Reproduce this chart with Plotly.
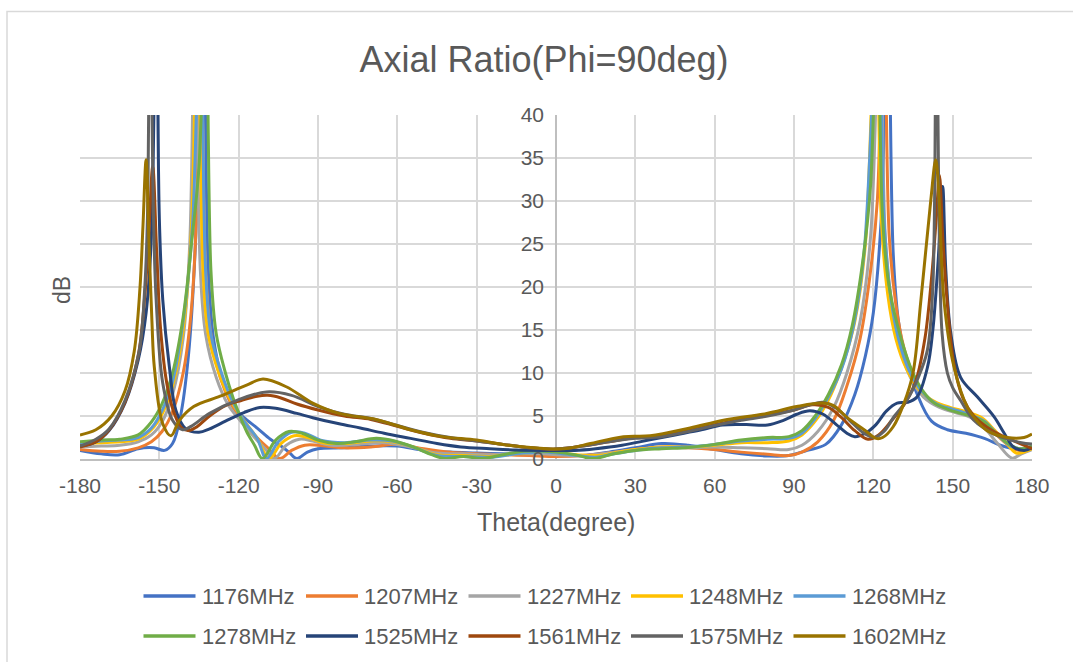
import plotly.graph_objects as go

# ---------------- data ----------------
title_text = "Axial Ratio(Phi=90deg)"
x_title = "Theta(degree)"
y_title = "dB"
x_tick_vals = [-180, -150, -120, -90, -60, -30, 0, 30, 60, 90, 120, 150, 180]
x_tick_text = ["-180", "-150", "-120", "-90", "-60", "-30", "0", "30", "60", "90", "120", "150", "180"]
y_tick_vals = [0, 5, 10, 15, 20, 25, 30, 35, 40]

series_names = ["1176MHz", "1207MHz", "1227MHz", "1248MHz", "1268MHz",
                "1278MHz", "1525MHz", "1561MHz", "1575MHz", "1602MHz"]
series_colors = ["#4472C4", "#ED7D31", "#A5A5A5", "#FFC000", "#5B9BD5",
                 "#70AD47", "#264478", "#9E480E", "#636363", "#997300"]

# (theta, axial ratio dB); peaks beyond 40 dB are clipped by the axis
s1176 = [(-180, 1.0), (-172, 0.6), (-165, 0.5), (-158, 1.2), (-152, 1.3), (-148, 1.0), (-145, 1.8),
         (-142, 5), (-139, 12), (-136.5, 24), (-133.5, 55), (-131.5, 22), (-129.5, 14), (-126, 9),
         (-122, 6), (-118, 4.8), (-113, 3.6), (-108, 2.3), (-104, 1.5), (-101, 0.8), (-98, 0.05),
         (-94, 0.8), (-90, 1.2), (-80, 1.3), (-70, 1.5), (-60, 1.5), (-50, 1.0), (-40, 0.8),
         (-30, 0.7), (-20, 0.6), (-10, 0.5), (0, 0.4), (10, 0.4), (20, 0.8), (30, 1.3), (40, 1.8),
         (50, 1.6), (60, 1.1), (70, 0.6), (80, 0.35), (88, 0.4), (95, 1.0), (102, 1.7), (108, 4),
         (113, 7.5), (117, 12), (120, 17), (123, 28), (125.5, 55), (127.5, 24), (129.5, 16),
         (132, 12), (136.5, 7.6), (142, 4.4), (148, 3.4), (155, 3.0), (162, 2.4), (168, 1.6),
         (173, 1.2), (177, 1.0), (180, 1.3)]
s1207 = [(-180, 1.1), (-172, 0.9), (-165, 0.9), (-158, 1.3), (-153, 2.0), (-149, 3.2), (-145, 5.5),
         (-141, 10), (-138, 17), (-136, 28), (-134.5, 55), (-132.5, 22), (-130.5, 14.5), (-127, 9.5),
         (-123, 6.5), (-119, 4.6), (-114, 2.8), (-109, 1.3), (-104.5, 0.05), (-100, 1.0), (-95, 1.6),
         (-90, 1.6), (-80, 1.3), (-70, 1.4), (-60, 1.7), (-50, 1.2), (-40, 0.8), (-30, 0.6),
         (-20, 0.5), (-10, 0.4), (0, 0.3), (10, 0.4), (20, 0.7), (30, 1.1), (40, 1.4), (50, 1.3),
         (60, 1.1), (70, 0.8), (80, 0.55), (88, 0.4), (93, 0.8), (99, 2.0), (105, 4.5), (110, 8.5),
         (115, 14), (119, 22), (121.5, 30), (124, 55), (126, 26), (128.5, 18), (131.5, 13),
         (135.5, 9.5), (140, 7.2), (146, 6.0), (152, 5.4), (158, 4.8), (163, 3.8), (168, 2.4),
         (173, 1.2), (177, 1.0), (180, 1.4)]
s1227 = [(-180, 1.4), (-172, 1.5), (-165, 1.6), (-158, 2.0), (-153, 2.8), (-149, 4.3), (-145, 7.5),
         (-141, 14), (-138.5, 25), (-136.5, 55), (-134.5, 22), (-132.5, 14.5), (-128.5, 9.5),
         (-124, 6.3), (-119, 4.3), (-114, 2.5), (-110, 1.2), (-106.5, 0.05), (-102, 1.6), (-97, 2.3),
         (-92, 2.1), (-85, 1.6), (-75, 1.7), (-65, 1.9), (-55, 1.4), (-45, 0.7), (-35, 0.6),
         (-25, 0.5), (-15, 0.6), (-5, 0.6), (0, 0.5), (10, 0.4), (20, 0.7), (30, 1.1), (40, 1.3),
         (50, 1.3), (60, 1.4), (70, 1.3), (80, 1.2), (88, 1.1), (93, 1.6), (99, 3.2), (105, 6),
         (110, 10), (115, 16), (119, 26), (122.5, 55), (124.5, 26), (127, 18), (130, 13), (134, 9.5),
         (139, 7.2), (145, 6.0), (151, 5.4), (157, 4.8), (162, 3.6), (167, 1.8), (172.5, 0.1),
         (176, 0.6), (180, 1.1)]
s1248 = [(-180, 1.8), (-172, 1.9), (-165, 2.0), (-158, 2.3), (-153, 3.4), (-149, 5.2), (-145, 8.5),
         (-141, 15), (-138, 26), (-135.5, 55), (-133.5, 22), (-131.5, 14.5), (-127.5, 10), (-123, 6.8),
         (-118, 4.5), (-113, 2.4), (-108.5, 0.05), (-104, 1.8), (-99, 2.7), (-94, 2.5), (-88, 1.9),
         (-80, 1.8), (-70, 2.1), (-62, 2.0), (-55, 1.5), (-45, 0.5), (-35, 0.4), (-25, 0.3),
         (-15, 0.6), (-5, 0.8), (0, 0.7), (8, 0.5), (15, 0.4), (22, 0.7), (30, 1.1), (40, 1.4),
         (50, 1.4), (60, 1.6), (70, 1.9), (80, 1.9), (88, 2.1), (93, 2.8), (99, 4.8), (104, 7.5),
         (109, 11.5), (113, 16), (117, 25), (121, 55), (123, 28), (125.5, 19), (128.5, 14),
         (132.5, 10.5), (137.5, 8), (143, 6.7), (149, 6.0), (155, 5.5), (161, 4.8), (166, 3.3),
         (171, 1.6), (174, 0.7), (177, 0.8), (180, 1.2)]
s1268 = [(-180, 1.9), (-172, 2.1), (-165, 2.2), (-158, 2.5), (-153, 3.6), (-149, 5.6), (-145, 9),
         (-141, 16), (-137.5, 27), (-134.5, 55), (-132.5, 22), (-130.5, 14.5), (-126.5, 10),
         (-122, 6.5), (-117.5, 4.2), (-113, 2.4), (-109.5, 0.05), (-105, 2.0), (-100, 3.1), (-95, 3.0),
         (-89, 2.2), (-80, 1.9), (-70, 2.2), (-62, 2.1), (-55, 1.5), (-45, 0.4), (-35, 0.3),
         (-25, 0.2), (-15, 0.6), (-5, 0.8), (0, 0.7), (8, 0.4), (15, 0.2), (22, 0.6), (30, 1.0),
         (40, 1.3), (50, 1.4), (60, 1.7), (70, 2.1), (80, 2.3), (88, 2.4), (93, 3.0), (98, 4.7),
         (103, 7.2), (108, 10.5), (112.5, 15.5), (116.5, 24), (122, 55), (124, 28), (126.5, 19),
         (129.5, 14), (133.5, 10.3), (138.5, 7.8), (144, 6.4), (150, 5.8), (156, 5.2), (162, 4.4),
         (167, 2.8), (172, 1.5), (176, 1.2), (180, 1.5)]
s1278 = [(-180, 2.0), (-172, 2.2), (-165, 2.3), (-158, 2.8), (-153, 4.3), (-149, 6.4), (-145, 10),
         (-141, 16.5), (-137.5, 26), (-135, 34), (-132.5, 55), (-130.5, 22), (-128.5, 14.6),
         (-125, 10), (-122, 7), (-119.5, 5), (-117, 3.2), (-114, 1.6), (-111, 0.05), (-106, 2.2),
         (-101, 3.2), (-96, 3.0), (-90, 2.2), (-83, 1.8), (-76, 2.0), (-68, 2.4), (-61, 2.1),
         (-54, 1.4), (-47, 0.5), (-42, 0.05), (-35, 0.3), (-28, 0.05), (-20, 0.5), (-12, 0.9),
         (-5, 0.9), (0, 0.8), (7, 0.5), (14, 0.05), (22, 0.6), (30, 1.0), (40, 1.2), (50, 1.35),
         (60, 1.7), (70, 2.2), (80, 2.5), (88, 2.6), (93, 3.3), (98, 5), (103, 7.5), (108, 11),
         (112, 15.5), (116, 23), (119, 32), (121.5, 55), (123.5, 28), (126, 20), (130.5, 14),
         (135, 10), (139, 7.8), (143, 6.5), (148, 5.8), (153, 5.3), (158, 4.9), (162, 4.3),
         (166, 3.1), (170, 2.0), (174, 1.3), (177, 1.2), (180, 1.5)]
s1525 = [(-180, 1.5), (-174, 2.0), (-169, 3.3), (-163, 6.5), (-158, 11.5), (-155, 17), (-153, 26),
         (-151.2, 55), (-150, 28), (-148.7, 18.5), (-146.2, 10.7), (-143.7, 5.6), (-140, 3.5),
         (-135, 3.1), (-131, 3.5), (-125, 4.4), (-118, 5.4), (-112, 6.0), (-106, 5.9), (-98, 5.3),
         (-92, 4.8), (-82, 4.1), (-74, 3.6), (-65, 3.0), (-55, 2.4), (-45, 1.8), (-36, 1.4),
         (-25, 1.2), (-15, 1.05), (-5, 1.0), (0, 1.0), (7, 1.0), (15, 1.2), (25, 1.6), (35, 2.2),
         (45, 2.8), (55, 3.4), (63, 3.95), (72, 4.0), (80, 3.95), (86, 4.5), (91, 5.2), (96, 5.6),
         (101, 5.2), (106, 4.0), (110, 3.0), (113, 2.6), (117, 3.0), (121, 4.0), (125, 5.6),
         (129, 6.5), (133, 6.6), (136.5, 7.2), (140.5, 10.7), (142.5, 15), (144.5, 23),
         (146.2, 31.7), (147.4, 22), (149.3, 14.6), (153, 9.5), (159.4, 7.2), (165.7, 4.9),
         (169.5, 3.0), (173, 1.4), (177, 1.0), (180, 1.3)]
s1561 = [(-180, 1.4), (-174, 2.0), (-169, 3.4), (-163, 6.6), (-158, 12), (-155.5, 19), (-154, 26),
         (-152.5, 34), (-151, 24), (-149.5, 15), (-147, 8.5), (-144, 5), (-141.5, 3.6), (-139, 3.3),
         (-136, 3.7), (-131, 5.0), (-125, 6.2), (-119, 6.8), (-113, 7.3), (-109, 7.4), (-104, 7.1),
         (-98, 6.4), (-90, 5.7), (-80, 5.0), (-70, 4.6), (-60, 3.8), (-50, 3.0), (-40, 2.4),
         (-30, 2.1), (-20, 1.7), (-10, 1.3), (0, 1.15), (10, 1.5), (20, 2.0), (30, 2.5), (40, 2.7),
         (50, 3.3), (60, 4.0), (70, 4.6), (80, 5.1), (90, 5.7), (97, 6.3), (103, 6.0), (108, 4.8),
         (113, 3.3), (118, 2.3), (122, 2.8), (127, 4.5), (132, 6.5), (136, 9), (139.5, 14),
         (142, 21), (143.8, 28), (145, 33), (146.2, 26), (148, 18), (150.5, 11), (154, 7),
         (158, 5), (163, 3.7), (168, 2.8), (174, 2.0), (180, 1.2)]
s1575 = [(-180, 1.5), (-174, 2.3), (-169, 3.5), (-163, 6.8), (-157.6, 12.6), (-155.5, 20),
         (-154.5, 28), (-153.5, 55), (-152.2, 28), (-151.2, 18.5), (-148.7, 8.8), (-145, 4.5),
         (-141.2, 3.4), (-138, 3.8), (-131, 5.3), (-120, 6.9), (-109.5, 7.8), (-100, 7.4),
         (-90, 6.1), (-80, 5.2), (-70, 4.7), (-60, 3.9), (-50, 3.1), (-40, 2.5), (-30, 2.1),
         (-20, 1.7), (-10, 1.3), (0, 1.15), (10, 1.5), (20, 2.0), (30, 2.4), (40, 2.6), (50, 3.2),
         (60, 3.9), (70, 4.5), (80, 5.0), (90, 5.7), (96, 6.3), (101, 6.6), (106, 5.9), (111, 4.5),
         (116, 3.1), (120.3, 2.5), (124, 3.2), (128, 5), (132.6, 6.8), (137, 9.5), (140.4, 12.6),
         (142.5, 20), (143.8, 55), (145, 25), (146, 14.6), (148, 10), (150, 8.3), (153, 6.8),
         (158, 4.5), (165.7, 2.9), (172, 2.2), (176, 1.9), (180, 1.75)]
s1602 = [(-180, 2.8), (-174, 3.4), (-168, 5.0), (-163, 7.9), (-159.5, 12.5), (-157.3, 20),
         (-156.2, 27), (-155, 34.8), (-154, 26), (-152.8, 16), (-151.9, 10.7),
         (-148.7, 4.1), (-145.6, 2.7), (-142.4, 4.5), (-137, 6.1), (-127, 7.3), (-117, 8.6),
         (-110.8, 9.3), (-102, 8.4), (-92, 6.5), (-82, 5.3), (-68, 4.6), (-55, 3.4), (-43, 2.6),
         (-30, 2.2), (-18, 1.6), (-6, 1.25), (0, 1.15), (6, 1.3), (13, 1.8), (25.5, 2.6),
         (35.6, 2.7), (50.7, 3.6), (63.3, 4.5), (79.7, 5.3), (91, 6.1), (101, 6.5), (105, 6.2),
         (109.8, 4.9), (117.4, 3.2), (121, 2.4), (123.5, 2.5), (127.5, 3.75), (131.6, 6.5),
         (135, 10), (138, 18.5), (141.7, 30), (143.6, 34.8), (144.9, 30), (146.7, 18.5),
         (150.5, 10.7), (155.6, 6), (159, 4.5), (163, 3.3), (170.7, 2.5), (177, 2.5), (180, 2.9)]

series_data = [s1176, s1207, s1227, s1248, s1268, s1278, s1525, s1561, s1575, s1602]

# ---------------- layout constants (pixels) ----------------
W, H = 1073, 662
L, R, T, B = 80, 1032, 115, 459
TEXT = "#595959"
FONT = "Liberation Sans, Arial, sans-serif"


def px_x(p):
    return (p - L) / (R - L)


def px_y(p):
    return (B - p) / (B - T)


fig = go.Figure()
for name, color, pts in zip(series_names, series_colors, series_data):
    fig.add_trace(go.Scatter(
        x=[p[0] for p in pts], y=[p[1] for p in pts], name=name, mode="lines",
        line=dict(color=color, width=3, shape="spline", smoothing=1.0),
        showlegend=False, hoverinfo="x+y+name"))

shapes = []
annotations = []

# chart border
shapes.append(dict(type="rect", xref="paper", yref="paper",
                   x0=px_x(7), x1=px_x(1090), y0=px_y(680), y1=px_y(11.5),
                   line=dict(color="#D9D9D9", width=1.5), fillcolor="rgba(0,0,0,0)", layer="below"))

# custom legend (two rows of five)
for i, (name, color) in enumerate(zip(series_names, series_colors)):
    row, col = divmod(i, 5)
    yc = 596 + row * 40
    x0 = 143.5 + col * 162.5
    shapes.append(dict(type="line", xref="paper", yref="paper",
                       x0=px_x(x0), x1=px_x(x0 + 52), y0=px_y(yc), y1=px_y(yc),
                       line=dict(color=color, width=3.5)))
    annotations.append(dict(text=name, xref="paper", yref="paper", x=px_x(x0 + 56), y=px_y(yc),
                            xanchor="left", yanchor="middle", showarrow=False,
                            font=dict(size=22, color=TEXT, family=FONT)))

# axis titles
annotations.append(dict(text=x_title, xref="paper", yref="paper", x=px_x(556), y=px_y(522),
                        xanchor="center", yanchor="middle", showarrow=False,
                        font=dict(size=25, color=TEXT, family=FONT)))
annotations.append(dict(text=y_title, xref="paper", yref="paper", x=px_x(62), y=px_y(290),
                        xanchor="center", yanchor="middle", showarrow=False, textangle=-90,
                        font=dict(size=23, color=TEXT, family=FONT)))

fig.update_layout(
    width=W, height=H, autosize=False,
    margin=dict(l=L, r=W - R, t=T, b=H - B, pad=0),
    paper_bgcolor="white", plot_bgcolor="white",
    title=dict(text=title_text, x=544 / W, xref="container", xanchor="center",
               y=1 - 59 / H, yref="container", yanchor="middle",
               font=dict(size=36, color=TEXT, family=FONT)),
    font=dict(family=FONT, color=TEXT),
    shapes=shapes, annotations=annotations,
    xaxis=dict(range=[-180, 180], tickmode="array", tickvals=x_tick_vals, ticktext=x_tick_text,
               showgrid=True, gridcolor="#D9D9D9", gridwidth=1.5,
               zeroline=True, zerolinecolor="#BFBFBF", zerolinewidth=1.5,
               showline=True, linecolor="#BFBFBF", linewidth=1.5, mirror=False,
               ticks="", ticklabelstandoff=7,
               tickfont=dict(size=21, color=TEXT, family=FONT)),
    yaxis=dict(range=[0, 40], tickmode="array", tickvals=y_tick_vals,
               showgrid=True, gridcolor="#D9D9D9", gridwidth=1.5,
               zeroline=False, showline=False, anchor="free", position=0.5,
               ticks="", ticklabelstandoff=12,
               tickfont=dict(size=21, color=TEXT, family=FONT)),
)

fig.write_html("out.html", config={"displayModeBar": False},
               post_script="document.body.style.margin='0';")
